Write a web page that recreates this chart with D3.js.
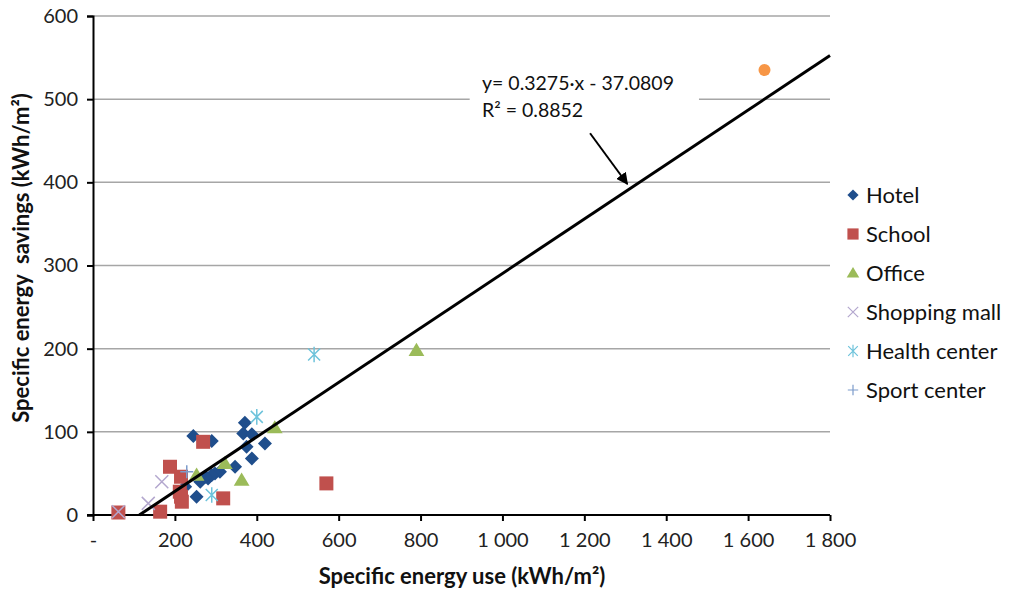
<!DOCTYPE html>
<html lang="en">
<head>
<meta charset="utf-8">
<title>Specific energy savings</title>
<script src="https://cdnjs.cloudflare.com/ajax/libs/d3/7.8.5/d3.min.js"></script>
<style>
  body { margin: 0; background: #fff; }
  svg text { font-family: Lato, "Open Sans", sans-serif; fill: #111; }
  .grid line { stroke: #a6a6a6; stroke-width: 1.5px; }
  .axis path, .axis line { stroke: #000; stroke-width: 2px; }
  .axis text { font-size: 20px; fill: #222; font-family: Lato, sans-serif; }
  .title { font-size: 22px; font-weight: bold; }
  .legend text { font-size: 22px; }
</style>
</head>
<body>
<div id="chart"></div>
<script>
// series (x = specific energy use, y = savings)
var hotel = [[245,95],[290,89],[371,111],[367,98],[388,97],[420,86],[375,82],[388,68],
             [347,58],[310,52],[298,50],[281,44],[290,48],[275,46],[253,22],[225,34],[262,40]];
var school = [[62,3],[164,4],[188,58],[215,46],[212,28],[217,16],[215,22],[269,88],[318,20],[570,38]];
var office = [[253,48],[322,62],[363,42],[444,105],[790,198]];
var shopping = [[62,4],[168,40],[135,14]];
var health = [[400,118],[290,24],[540,193]];
var sport = [[229,52]];
var extra = [[1640,535]];

var seriesNames = ["Hotel","School","Office","Shopping mall","Health center","Sport center"];
var xTicks = [0,200,400,600,800,1000,1200,1400,1600,1800];
var yTicks = [0,100,200,300,400,500,600];
var slope = 0.3275, intercept = -37.0809, r2 = 0.8852;

var W = 1013, H = 592;
var mLeft = 93, mRight = 830, mTop = 16, mBottom = 515;

var svg = d3.select("#chart").append("svg").attr("width", W).attr("height", H);

var x = d3.scaleLinear().domain([0,1800]).range([mLeft,mRight]);
var y = d3.scaleLinear().domain([0,600]).range([mBottom,mTop]);

var fmt = function(d){
  if (d === 0) return "-";
  return d3.format(",")(d).replace(",", " ");
};

// gridlines
svg.append("g").attr("class","grid")
  .selectAll("line").data(yTicks.filter(function(d){return d>0;})).enter()
  .append("line")
  .attr("x1", mLeft).attr("x2", mRight)
  .attr("y1", function(d){return y(d);}).attr("y2", function(d){return y(d);});

// axes
var gx = svg.append("g").attr("class","axis")
  .attr("transform","translate(0,"+mBottom+")")
  .call(d3.axisBottom(x).tickValues(xTicks).tickFormat(fmt).tickSizeOuter(0).tickSize(6).tickPadding(12));
var gy = svg.append("g").attr("class","axis")
  .attr("transform","translate("+mLeft+",0)")
  .call(d3.axisLeft(y).tickValues(yTicks).tickSizeOuter(0).tickSize(6).tickPadding(9));
gx.select(".domain").attr("d","M"+(mLeft-6)+",0H"+mRight);

// markers
function diamond(s){ return "M0,"+(-s)+"L"+s+",0L0,"+s+"L"+(-s)+",0Z"; }
function square(s){ return "M"+(-s)+","+(-s)+"h"+(2*s)+"v"+(2*s)+"h"+(-2*s)+"Z"; }
function tri(s){ return "M0,"+(-s)+"L"+(s*1.05)+","+(s*0.75)+"L"+(-s*1.05)+","+(s*0.75)+"Z"; }
function xmark(s){ return "M"+(-s)+","+(-s)+"L"+s+","+s+"M"+(-s)+","+s+"L"+s+","+(-s); }
function star(s){ return xmark(s) + "M0,"+(-s*1.3)+"L0,"+(s*1.3); }
function plus(s){ return "M"+(-s)+",0H"+s+"M0,"+(-s)+"V"+s; }

var styles = [
  {data: hotel, path: diamond(7), fill: "#1F4E8C", stroke: "none"},
  {data: school, path: square(7), fill: "#C0504D", stroke: "none"},
  {data: office, path: tri(7.5), fill: "#9BBB59", stroke: "none"},
  {data: shopping, path: xmark(6.5), fill: "none", stroke: "#B3A7CE"},
  {data: health, path: star(6), fill: "none", stroke: "#6EC3DB"},
  {data: sport, path: plus(6.5), fill: "none", stroke: "#7C9CCB"},
  {data: extra, path: "M0,-6A6,6 0 1,1 0,6A6,6 0 1,1 0,-6Z", fill: "#F79646", stroke: "none"}
];

styles.forEach(function(st){
  svg.append("g").selectAll("path").data(st.data).enter()
    .append("path")
    .attr("d", st.path)
    .attr("transform", function(d){ return "translate("+x(d[0])+","+y(d[1])+")"; })
    .attr("fill", st.fill)
    .attr("stroke", st.stroke)
    .attr("stroke-width", 1.5);
});

// trendline
var x0 = -intercept/slope;
svg.append("line")
  .attr("x1", x(x0)).attr("y1", y(0))
  .attr("x2", x(1800)).attr("y2", y(slope*1800+intercept))
  .attr("stroke","#000").attr("stroke-width",3);

// equation box and arrow
svg.append("rect")
  .attr("x", x(920)).attr("y", y(545))
  .attr("width", x(1480)-x(920)).attr("height", y(480)-y(545))
  .attr("fill","#fff");
svg.append("text").attr("x", x(950)).attr("y", y(511))
  .attr("font-size", 19.5).text("y= 0.3275\u00b7x - 37.0809");
svg.append("text").attr("x", x(950)).attr("y", y(479))
  .attr("font-size", 19.5).text("R\u00b2 = "+r2);

svg.append("defs").append("marker")
  .attr("id","arr").attr("viewBox","0 0 10 10").attr("refX",9).attr("refY",5)
  .attr("markerWidth",6).attr("markerHeight",6).attr("orient","auto")
  .append("path").attr("d","M0,0L10,5L0,10Z").attr("fill","#000");
svg.append("line")
  .attr("x1", x(1214)).attr("y1", y(459))
  .attr("x2", x(1305)).attr("y2", y(398))
  .attr("stroke","#000").attr("stroke-width",2)
  .attr("marker-end","url(#arr)");

// axis titles
svg.append("text").attr("class","title")
  .attr("x", 462).attr("y", 584).attr("text-anchor","middle")
  .text("Specific energy use (kWh/m\u00b2)");
svg.append("text").attr("class","title")
  .attr("transform","translate(29,258) rotate(-90)").attr("text-anchor","middle")
  .text("Specific energy  savings (kWh/m\u00b2)").style("white-space","pre");

// legend
var lg = svg.append("g").attr("class","legend").attr("transform","translate(853,195)");
seriesNames.forEach(function(name, i){
  var st = styles[i];
  var g = lg.append("g").attr("transform","translate(0,"+(i*39)+")");
  g.append("path").attr("d", st.path).attr("transform","scale(0.8)")
    .attr("fill", st.fill).attr("stroke", st.stroke).attr("stroke-width", 1.5);
  g.append("text").attr("x", 13).attr("y", 8).text(name);
});
</script>
</body>
</html>
